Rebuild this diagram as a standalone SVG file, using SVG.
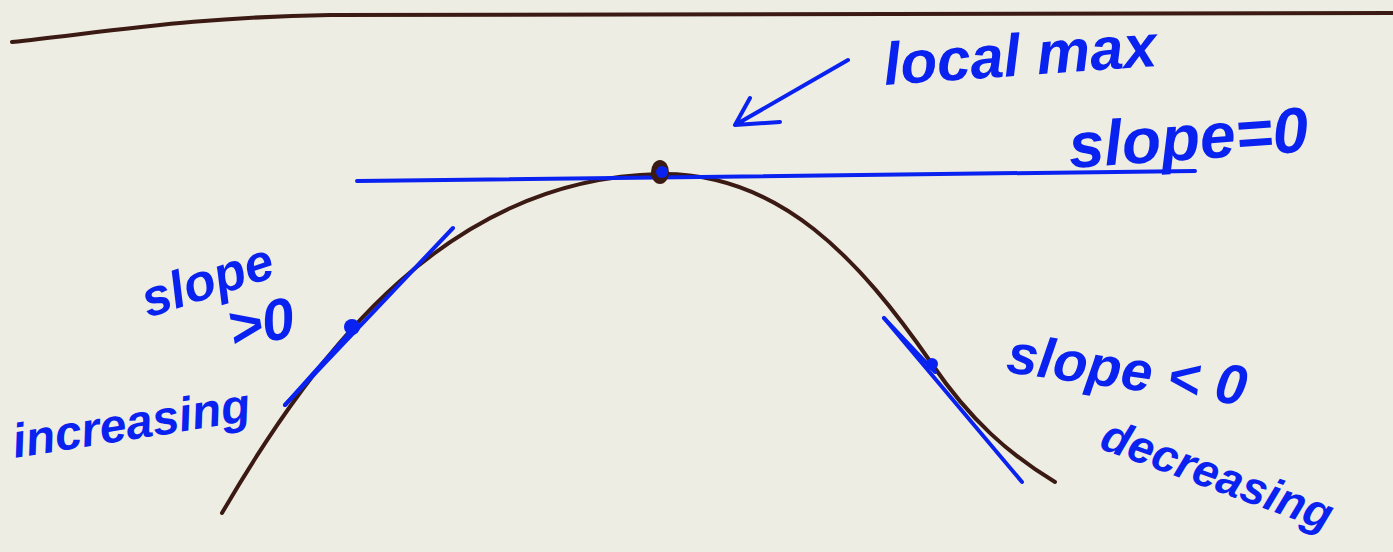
<svg xmlns="http://www.w3.org/2000/svg" width="1393" height="552" viewBox="0 0 1393 552">
<style>
.ink{fill:none;stroke:#3b1a14;stroke-width:4;stroke-linecap:round}
.pen{fill:none;stroke:#0a22f0;stroke-width:4;stroke-linecap:round;stroke-linejoin:round}
.lbl{font-family:"Liberation Sans",Arial,sans-serif;font-style:italic;font-weight:bold;fill:#0a22f0}
</style>
<rect width="1393" height="552" fill="#eeede3"/>
<path class="ink" d="M12,42 C120,30 200,17 330,15 L1393,13"/>
<path class="ink" d="M222,513 C320,345 450,178 660,174 C780,172 860,260 932,364 C970,420 1010,455 1055,482"/>
<g id="tangents">
<path class="pen" d="M357,181 L1195,171"/>
<path class="pen" d="M285,405 L453,228"/>
<path class="pen" stroke-width="9" d="M285,405 L352,330"/>
<path class="pen" d="M884,318 L1022,482"/>
<path class="pen" stroke-width="6" d="M884,318 L935,372"/>
<ellipse cx="660" cy="172" rx="9" ry="12" fill="#3b1a14"/>
<circle cx="662" cy="172" r="6" fill="#0a22f0"/>
<circle cx="352" cy="327" r="8" fill="#0a22f0"/>
<circle cx="932" cy="364" r="6" fill="#0a22f0"/>
</g>
<g id="arrow">
<path class="pen" stroke-width="7" d="M848,60 L735,125 M750,98 L735,125 L780,122"/>
</g>
<g id="labels">
<text class="lbl" x="885" y="85" font-size="60" transform="rotate(-4 885 85)">local max</text>
<text class="lbl" x="1070" y="168" font-size="64" transform="rotate(-4 1070 168)">slope=0</text>
<text class="lbl" x="148" y="318" font-size="52" transform="rotate(-18 148 318)">slope</text>
<text class="lbl" x="232" y="348" font-size="58" transform="rotate(-10 232 348)">&gt;0</text>
<text class="lbl" x="15" y="458" font-size="48" transform="rotate(-9 15 458)">increasing</text>
<text class="lbl" x="1005" y="372" font-size="56" transform="rotate(8 1005 372)">slope &lt; 0</text>
<text class="lbl" x="1098" y="448" font-size="46" transform="rotate(20 1098 448)">decreasing</text>
</g>
</svg>
